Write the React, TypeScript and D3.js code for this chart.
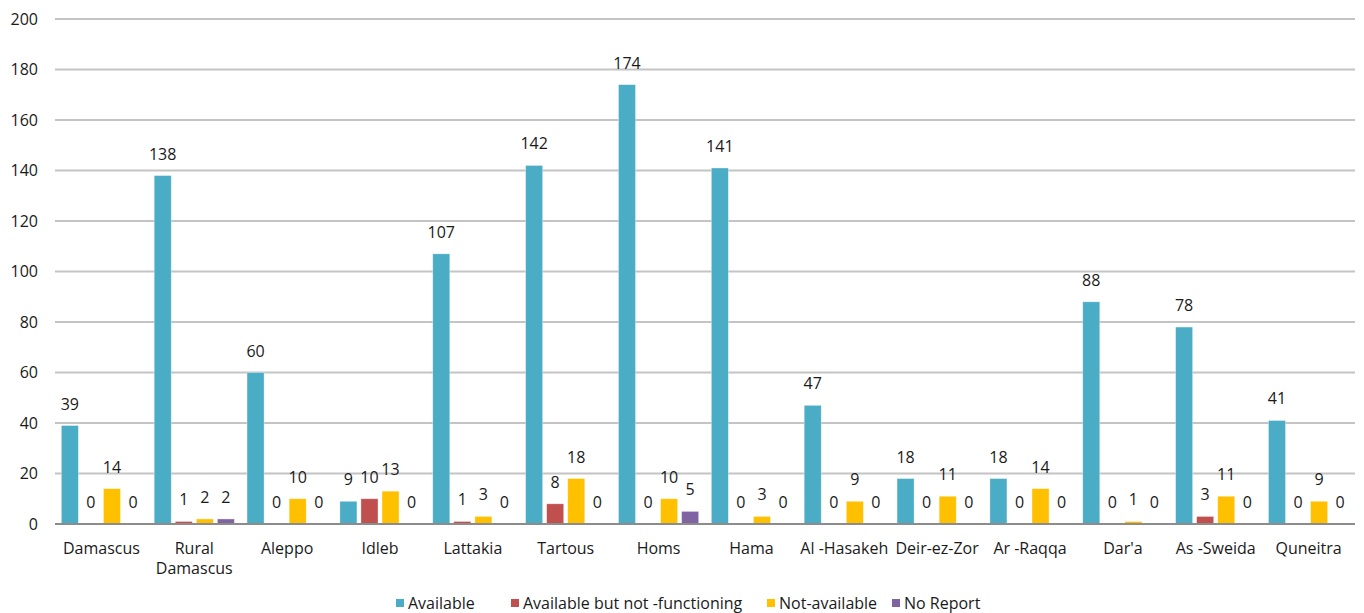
import React from 'react';
import * as d3 from 'd3';

const categories = [
  ['Damascus'], ['Rural', 'Damascus'], ['Aleppo'], ['Idleb'], ['Lattakia'], ['Tartous'], ['Homs'],
  ['Hama'], ['Al -Hasakeh'], ['Deir-ez-Zor'], ['Ar -Raqqa'], ["Dar'a"], ['As -Sweida'], ['Quneitra'],
];
const seriesNames = ['Available', 'Available but not -functioning', 'Not-available', 'No Report'];
const seriesColors = ['#4BACC6', '#C0504D', '#FFC000', '#8064A2'];
const available = [39, 138, 60, 9, 107, 142, 174, 141, 47, 18, 18, 88, 78, 41];
const notFunctioning = [0, 1, 0, 10, 1, 8, 0, 0, 0, 0, 0, 0, 3, 0];
const notAvailable = [14, 2, 10, 13, 3, 18, 10, 3, 9, 11, 14, 1, 11, 9];
const noReport = [0, 2, 0, 0, 0, 0, 5, 0, 0, 0, 0, 0, 0, 0];
const yTicks = [0, 20, 40, 60, 80, 100, 120, 140, 160, 180, 200];

const series = [available, notFunctioning, notAvailable, noReport];
const FONT = '"Open Sans", sans-serif';

export default function App() {
  const W = 1364, H = 613;
  const left = 55, right = 1355, top = 19, bottom = 524;

  const x0 = d3.scaleBand<number>().domain(d3.range(categories.length)).range([left, right]);
  const x1 = d3.scaleBand<number>().domain(d3.range(4)).range([0, x0.bandwidth()])
    .paddingInner(0.19).paddingOuter(0.3);
  const y = d3.scaleLinear().domain([0, 200]).range([bottom, top]);

  // legend layout
  const legendX = [396, 511, 767, 892];

  return (
    <div style={{ position: 'absolute', left: 0, top: 0 }}>
      <svg width={W} height={H} style={{ display: 'block', background: '#fff' }} fontFamily={FONT}>
        {yTicks.map(t => (
          <g key={t}>
            {t > 0 && (
              <line x1={left} x2={right} y1={y(t)} y2={y(t)} stroke="#C4C4C4" strokeWidth={2} />
            )}
            <text x={38} y={y(t)} dy="0.35em" textAnchor="end" fontSize={16} fill="#1a1a1a">{t}</text>
          </g>
        ))}

        {categories.map((cat, i) => (
          <g key={i} transform={`translate(${x0(i)},0)`}>
            {series.map((vals, s) => {
              const v = vals[i];
              const bx = x1(s)!;
              const bw = x1.bandwidth();
              return (
                <g key={s}>
                  {v > 0 && (
                    <rect x={bx} y={y(v)} width={bw} height={bottom - y(v)}
                      fill={seriesColors[s]} stroke="#fff" strokeOpacity={0.5} strokeWidth={0.7} />
                  )}
                  <text x={bx + bw / 2} y={y(v) - 16} textAnchor="middle" fontSize={16} fill="#1a1a1a">{v}</text>
                </g>
              );
            })}
            {cat.map((line, k) => (
              <text key={k} x={x0.bandwidth() / 2} y={554 + k * 20} textAnchor="middle" fontSize={16} fill="#1a1a1a">{line}</text>
            ))}
          </g>
        ))}

        <line x1={left} x2={right} y1={bottom} y2={bottom} stroke="#8C8C8C" strokeWidth={2} />

        {seriesNames.map((name, s) => (
          <g key={name} transform={`translate(${legendX[s]},603)`}>
            <rect x={0} y={-4} width={8} height={8} fill={seriesColors[s]} />
            <text x={12} y={0} dy="0.35em" fontSize={16} fill="#1a1a1a">{name}</text>
          </g>
        ))}
      </svg>
    </div>
  );
}
